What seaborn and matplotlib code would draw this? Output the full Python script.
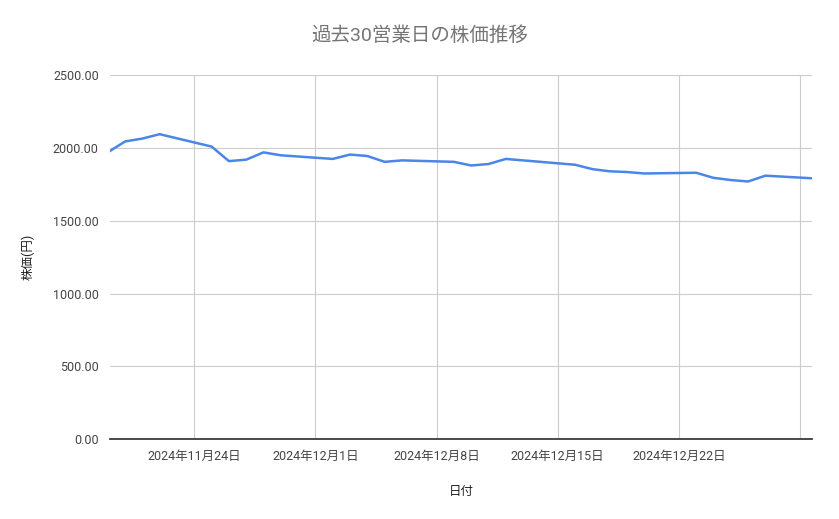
import matplotlib
matplotlib.use("Agg")
import matplotlib.pyplot as plt
import seaborn as sns
import pandas as pd

dates = ["2024-11-19","2024-11-20","2024-11-21","2024-11-22","2024-11-25","2024-11-26","2024-11-27",
         "2024-11-28","2024-11-29","2024-12-02","2024-12-03","2024-12-04","2024-12-05","2024-12-06",
         "2024-12-09","2024-12-10","2024-12-11","2024-12-12","2024-12-13","2024-12-16","2024-12-17",
         "2024-12-18","2024-12-19","2024-12-20","2024-12-23","2024-12-24","2024-12-25","2024-12-26",
         "2024-12-27","2024-12-30"]
prices = [1970,2045,2065,2095,2010,1910,1920,1970,1950,1925,1955,1945,1905,1915,1905,1880,1890,
          1925,1915,1885,1855,1840,1835,1825,1830,1795,1780,1770,1810,1790]
tick_dates = ["2024-11-24","2024-12-01","2024-12-08","2024-12-15","2024-12-22","2024-12-29"]
tick_labels = ["2024年11月24日","2024年12月1日","2024年12月8日","2024年12月15日","2024年12月22日",""]

df = pd.DataFrame({"date": pd.to_datetime(dates), "price": prices})

sns.set_theme(style="white")
plt.rcParams['font.family'] = ['Roboto', 'Noto Sans CJK JP', 'DejaVu Sans']

fig = plt.figure(figsize=(8.39, 5.19), dpi=100)
ax = fig.add_axes([0.131, 0.154, 0.837, 0.701])
sns.lineplot(data=df, x="date", y="price", ax=ax, color="#4a86e8", linewidth=1.8)

ax.set_xlim(pd.Timestamp("2024-11-19 03:00"), pd.Timestamp("2024-11-19") + pd.Timedelta(days=40.7))
ax.set_ylim(0, 2500)
ax.set_yticks([0, 500, 1000, 1500, 2000, 2500])
ax.set_yticklabels([f"{v:.2f}" for v in [0, 500, 1000, 1500, 2000, 2500]])
ax.set_xticks(pd.to_datetime(tick_dates))
ax.set_xticklabels(tick_labels)
ax.grid(True, color="#cccccc", linewidth=0.8)
for s in ["top", "right", "left"]:
    ax.spines[s].set_visible(False)
ax.spines["bottom"].set_color("#333333")
ax.tick_params(axis="both", length=0, labelsize=9, colors="#444444", pad=8)
ax.set_xlabel("日付", fontsize=9, color="#222222")
ax.set_ylabel("株価(円)", fontsize=9, color="#222222")
ax.xaxis.set_label_coords(0.5, -0.125)
ax.yaxis.set_label_coords(-0.107, 0.5)
fig.suptitle("過去30営業日の株価推移", y=0.95, fontsize=14, color="#757575")
fig.savefig("out.png", dpi=100)
